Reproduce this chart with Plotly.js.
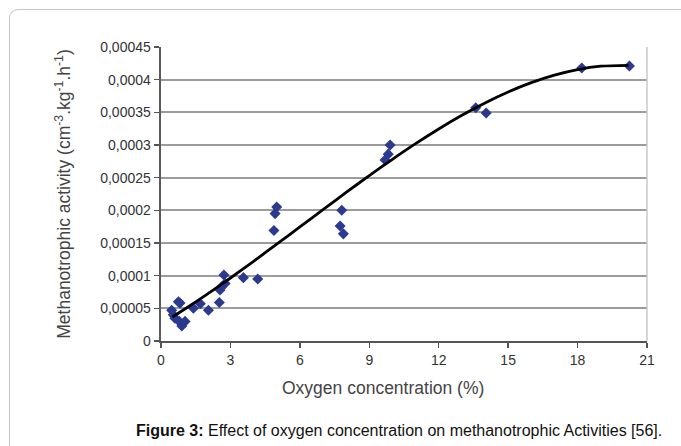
<!DOCTYPE html>
<html>
<head>
<meta charset="utf-8">
<script src="https://cdn.plot.ly/plotly-3.0.1.min.js"></script>
<style>
  html, body { margin: 0; padding: 0; background: #fff; }
  #wrap { position: relative; width: 681px; height: 446px; overflow: hidden; }
  #chart { position: absolute; left: 0; top: 0; width: 681px; height: 446px; }
  #frame { position: absolute; left: 9px; top: 9px; width: 720px; height: 520px;
           border: 1px solid #c4c4c4; border-radius: 9px; pointer-events: none; }
</style>
</head>
<body>
<div id="wrap">
  <div id="chart"></div>
  <div id="frame"></div>
</div>
<script>
// Measured points: oxygen concentration (%) vs methanotrophic activity
const oxygen = [0.46, 0.53, 0.60, 0.75, 0.79, 0.82, 0.90, 1.04, 1.40, 1.70, 2.05, 2.52, 2.55, 2.62, 2.77, 2.72,
                3.56, 4.18, 4.88, 4.93, 5.00, 7.74, 7.81, 7.88, 9.68, 9.82, 9.90, 13.60, 14.05, 18.18, 20.24];
const activity = [0.000047, 0.000040, 0.000035, 0.000060, 0.000030, 0.000058, 0.000023, 0.000030, 0.000050, 0.000057,
                  0.000047, 0.000059, 0.000078, 0.000083, 0.000088, 0.000101, 0.000097, 0.000095, 0.000169, 0.000195,
                  0.000205, 0.000176, 0.000200, 0.000164, 0.000277, 0.000286, 0.000300, 0.000357, 0.000349, 0.000418, 0.000421];

// Trend curve
const trendX = [0.5, 1, 2, 3, 4, 5, 6, 7, 8, 9, 10, 11, 12, 13, 14, 15, 16, 17, 18, 19, 20.2];
const trendY = [0.0000370, 0.0000482, 0.0000718, 0.0000964, 0.0001220, 0.0001482, 0.0001746, 0.0002011, 0.0002274,
                0.0002532, 0.0002781, 0.0003020, 0.0003245, 0.0003454, 0.0003643, 0.0003811, 0.0003954, 0.0004069,
                0.0004154, 0.0004206, 0.0004220];

// Axis ticks
const xTicks = [0, 3, 6, 9, 12, 15, 18, 21];
const yTickVals = [0, 0.00005, 0.0001, 0.00015, 0.0002, 0.00025, 0.0003, 0.00035, 0.0004, 0.00045];
const yTickText = ["0", "0,00005", "0,0001", "0,00015", "0,0002", "0,00025", "0,0003", "0,00035", "0,0004", "0,00045"];

const FONT = "Arial, 'Liberation Sans', sans-serif";

const traces = [
  {
    x: oxygen, y: activity, type: "scatter", mode: "markers",
    marker: { symbol: "diamond", size: 8.5, color: "#2b3a8f" },
    hoverinfo: "skip"
  },
  {
    x: trendX, y: trendY, type: "scatter", mode: "lines",
    line: { color: "#000000", width: 2.8, shape: "spline", smoothing: 0.8 },
    hoverinfo: "skip"
  }
];

const layout = {
  width: 681, height: 446,
  margin: { l: 161, r: 34, t: 47, b: 105 },
  paper_bgcolor: "rgba(0,0,0,0)",
  plot_bgcolor: "#ffffff",
  showlegend: false,
  font: { family: FONT, color: "#333333", size: 14 },
  xaxis: {
    range: [0, 21], tickvals: xTicks, ticktext: xTicks.map(String),
    showgrid: false, zeroline: false,
    showline: true, linecolor: "#555555", linewidth: 2.2,
    ticks: "outside", ticklen: 5, tickwidth: 1.5, tickcolor: "#555555",
    tickfont: { family: FONT, size: 14, color: "#333333" },
    title: { text: "" }
  },
  yaxis: {
    range: [0, 0.00045], tickvals: yTickVals, ticktext: yTickText,
    showgrid: true, gridcolor: "#9c9c9c", gridwidth: 2, zeroline: false,
    showline: true, linecolor: "#5a5a5a", linewidth: 2.4,
    ticks: "outside", ticklen: 5, tickwidth: 1.5, tickcolor: "#555555",
    tickfont: { family: FONT, size: 14, color: "#333333" },
    title: { text: "Methanotrophic activity (cm<sup>-3</sup>.kg<sup>-1</sup>.h<sup>-1</sup>)",
             font: { family: FONT, size: 17.5, color: "#444444" }, standoff: 25 }
  },
  shapes: [
    { type: "line", xref: "paper", yref: "paper", x0: 1, x1: 1, y0: 0, y1: 1,
      line: { color: "#c8c8c8", width: 1.5 } }
  ],
  annotations: [
    { xref: "paper", yref: "paper", x: 0.457, y: -0.16, xanchor: "center", yanchor: "middle",
      showarrow: false, text: "Oxygen concentration (%)",
      font: { family: FONT, size: 17.5, color: "#444444" } },
    { xref: "paper", yref: "paper", x: -0.056, y: -0.303, xanchor: "left", yanchor: "middle",
      showarrow: false, align: "left",
      text: "<b>Figure 3:</b> Effect of oxygen concentration on methanotrophic Activities [56].",
      font: { family: FONT, size: 16, color: "#111111" } }
  ]
};

Plotly.newPlot("chart", traces, layout, { staticPlot: true, displayModeBar: false });
</script>
</body>
</html>
